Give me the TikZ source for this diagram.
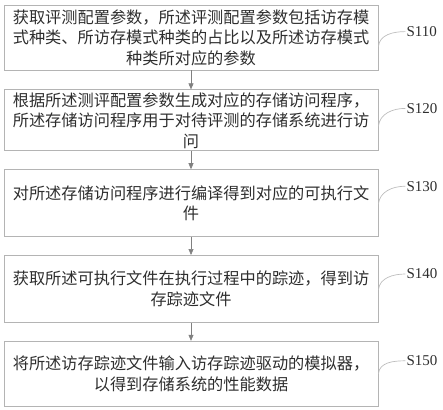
\documentclass[tikz,border=0pt]{standalone}
\usepackage{fontspec}
\usepackage{xcolor}
\newfontfamily\cjk{Noto Sans CJK SC}
\setmainfont{Liberation Serif}
\usetikzlibrary{positioning,arrows.meta}
\definecolor{boxline}{HTML}{B4B4B4}
\definecolor{boxtext}{HTML}{2E2E2E}
\definecolor{leadline}{HTML}{BDBDBD}
\begin{document}
\begin{tikzpicture}[x=1pt, y=1pt, node distance=18pt]
    % Define styles
    \tikzstyle{stepbox} = [rectangle, draw=boxline, line width=0.8pt, minimum width=374pt, align=center, inner sep=0pt, text=boxtext, font=\cjk\fontsize{16.2}{20.5}\selectfont]
    \tikzstyle{steplabel} = [anchor=west, inner sep=1pt, text=boxtext, font=\fontsize{15}{17}\selectfont]
    \tikzstyle{arrow} = [draw=gray, line width=0.6pt, -{Triangle[width=5pt,length=6pt]}]
    \tikzstyle{leader} = [draw=leadline, line width=0.7pt]

    \useasboundingbox (0,0) rectangle (443,-409);

    % Main flow steps
    \node [stepbox, minimum height=65pt] (getparam) at (191,-37.5) {获取评测配置参数，所述评测配置参数包括访存模\\式种类、所访存模式种类的占比以及所述访存模式\\种类所对应的参数};
    \node [stepbox, minimum height=61pt, below=19pt of getparam] (genprog) {根据所述测评配置参数生成对应的存储访问程序，\\所述存储访问程序用于对待评测的存储系统进行访\\问};
    \node [stepbox, minimum height=67pt, below=of genprog] (compile) {对所述存储访问程序进行编译得到对应的可执行文\\件};
    \node [stepbox, minimum height=67pt, below=of compile] (trace) {获取所述可执行文件在执行过程中的踪迹，得到访\\存踪迹文件};
    \node [stepbox, minimum height=65pt, below=of trace] (simulate) {将所述访存踪迹文件输入访存踪迹驱动的模拟器，\\以得到存储系统的性能数据};

    % Main flow arrows
    \draw [arrow] (getparam) -- (genprog);
    \draw [arrow] (genprog) -- (compile);
    \draw [arrow] (compile) -- (trace);
    \draw [arrow] (trace) -- (simulate);

    % Step labels
    \node [steplabel] (s110) at ([xshift=27pt,yshift=-27pt]getparam.north east) {S110};
    \node [steplabel] (s120) at ([xshift=27pt,yshift=-19pt]genprog.north east) {S120};
    \node [steplabel] (s130) at ([xshift=27pt,yshift=-17pt]compile.north east) {S130};
    \node [steplabel] (s140) at ([xshift=27pt,yshift=-19pt]trace.north east) {S140};
    \node [steplabel] (s150) at ([xshift=27pt,yshift=-20pt]simulate.north east) {S150};

    % Label leaders
    \coordinate (c110) at ([yshift=-42pt]getparam.north east);
    \coordinate (c120) at ([yshift=-37pt]genprog.north east);
    \coordinate (c130) at ([yshift=-35pt]compile.north east);
    \coordinate (c140) at ([yshift=-35pt]trace.north east);
    \coordinate (c150) at ([yshift=-33pt]simulate.north east);
    \draw [leader] (c110) to[out=85,in=180] (s110.west);
    \draw [leader] (c120) to[out=85,in=180] (s120.west);
    \draw [leader] (c130) to[out=85,in=180] (s130.west);
    \draw [leader] (c140) to[out=85,in=180] (s140.west);
    \draw [leader] (c150) to[out=85,in=180] (s150.west);
\end{tikzpicture}
\end{document}
